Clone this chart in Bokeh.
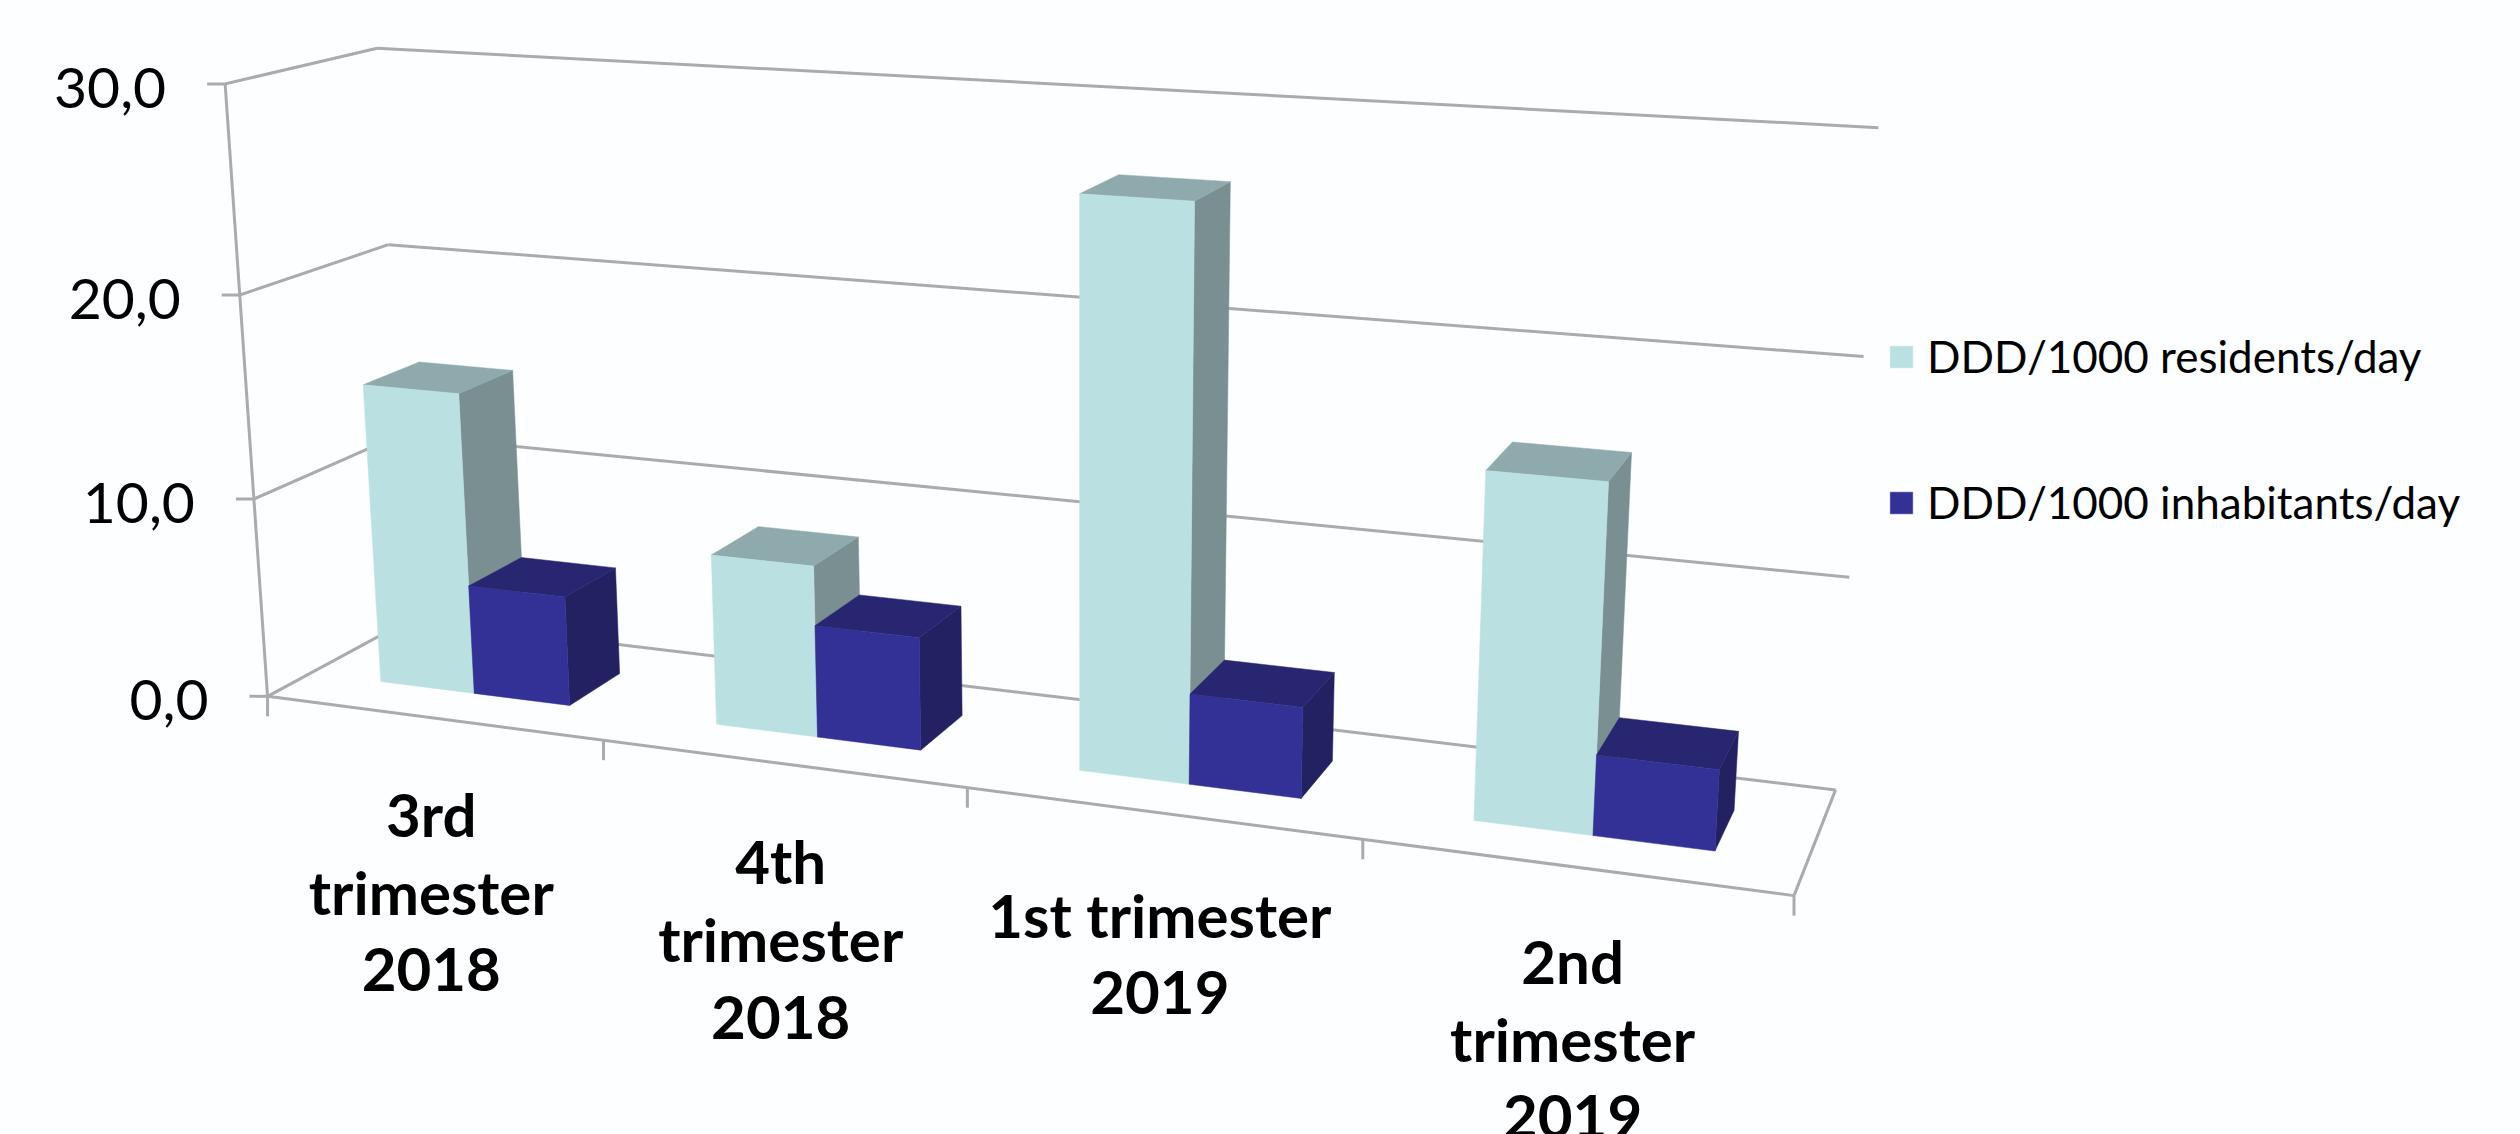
import numpy as np
from bokeh.plotting import figure
from bokeh.models import Range1d, Legend, LegendItem
from bokeh.core.properties import value
from bokeh.embed import file_html
from bokeh.resources import INLINE

# ---- data ----
category_lines = [["3rd", "trimester", "2018"], ["4th", "trimester", "2018"],
                  ["1st trimester", "2019"], ["2nd", "trimester", "2019"]]
residents = [15.1, 8.4, 26.7, 15.9]
inhabitants = [5.5, 5.5, 4.3, 3.7]
series_names = ["DDD/1000 residents/day", "DDD/1000 inhabitants/day"]
y_ticks = [0, 10, 20, 30]
y_tick_labels = ["0,0", "10,0", "20,0", "30,0"]

# ---- style / camera ----
W, H = 2520, 1134
CAMERA = np.array([[312.811742, 172.699883, -1.784522, 267.051492],
                   [15.484814, -30.353569, -20.551973, 695.833239],
                   [-0.038362, 0.074942, -0.001651, 1.0]])
BAR_START, BAR_WIDTH = 0.217, 0.286
DEPTH_FRONT, DEPTH_BACK = 0.293, 0.685
GRID = "#ABABAB"
BG = "#FCFEFF"
FACES = [("#BBE0E1", "#8EAAAC", "#798F91"), ("#333096", "#282671", "#232162")]
LABEL_DY = [96, 98, 102, 94]
LINE_STEP = 78
FONT = "Lato"


def pr(u, w, v):
    q = CAMERA @ np.array([u, w, v, 1.0])
    return q[0] / q[2], q[1] / q[2]


p = figure(width=W, height=H, x_range=Range1d(0, W), y_range=Range1d(H, 0),
           x_axis_location=None, y_axis_location=None, toolbar_location=None,
           output_backend="svg", min_border=0, outline_line_color=None,
           background_fill_color=BG, border_fill_color=BG)
p.grid.visible = False

# ---- frame ----
nc = len(residents)
xs, ys = [], []


def seg(a, b):
    xs.append([a[0], b[0]])
    ys.append([a[1], b[1]])


for v in y_ticks:
    seg(pr(0, 0, v), pr(0, 1, v))
    seg(pr(0, 1, v), pr(nc, 1, v))
    fx, fy = pr(0, 0, v)
    seg((fx - 18, fy), (fx, fy))
seg(pr(0, 0, y_ticks[0]), pr(0, 0, y_ticks[-1]))
seg(pr(nc, 1, 0), pr(nc, 0, 0))
seg(pr(0, 0, 0), pr(nc, 0, 0))
for i in range(nc + 1):
    fx, fy = pr(i, 0, 0)
    seg((fx, fy), (fx, fy + 20))
p.multi_line(xs, ys, line_color=GRID, line_width=3)

# ---- bars ----
legend_items = []


def faces(u0, u1, v):
    f, b = DEPTH_FRONT, DEPTH_BACK
    side = [pr(u1, f, 0), pr(u1, b, 0), pr(u1, b, v), pr(u1, f, v)]
    top = [pr(u0, f, v), pr(u1, f, v), pr(u1, b, v), pr(u0, b, v)]
    front = [pr(u0, f, 0), pr(u1, f, 0), pr(u1, f, v), pr(u0, f, v)]
    return side, top, front


for i in range(nc):
    for s, vals in enumerate([residents, inhabitants]):
        u0 = i + BAR_START + s * BAR_WIDTH
        u1 = u0 + BAR_WIDTH
        side, top, front = faces(u0, u1, vals[i])
        for quad, col in ((side, FACES[s][2]), (top, FACES[s][1])):
            p.patch([q[0] for q in quad], [q[1] for q in quad], fill_color=col, line_color=col, line_width=0.5)
        r = p.patch([q[0] for q in front], [q[1] for q in front], fill_color=FACES[s][0],
                    line_color=FACES[s][0], line_width=0.5)
        if i == 0:
            legend_items.append(LegendItem(label=series_names[s], renderers=[r]))

# ---- value tick labels ----
lx, ly, lt = [], [], []
for v, t in zip(y_ticks, y_tick_labels):
    fx, fy = pr(0, 0, v)
    lx.append(fx - 59)
    ly.append(fy + 4)
    lt.append(t)
p.text(lx, ly, text=lt, text_align="right", text_baseline="middle", text_color="#000000",
       text_font=value(FONT), text_font_size="57px")

# ---- category labels ----
cx, cy, ct = [], [], []
for i, lines in enumerate(category_lines):
    fx, fy = pr(i + 0.5, 0, 0)
    for k, line in enumerate(lines):
        cx.append(fx - 1)
        cy.append(fy + LABEL_DY[i] + k * LINE_STEP)
        ct.append(line)
p.text(cx, cy, text=ct, text_align="center", text_baseline="middle", text_color="#000000",
       text_font=value(FONT), text_font_style="bold", text_font_size="60px")

# ---- legend ----
legend = Legend(items=legend_items, location=(1887, H - 528), orientation="vertical",
                background_fill_alpha=0, border_line_alpha=0, glyph_width=28, glyph_height=27,
                label_text_font=FONT, label_text_font_size="44px", label_text_color="#000000",
                label_standoff=12, spacing=94, padding=0, margin=0, label_height=27)
p.add_layout(legend, "center")

open("out.html", "w").write(file_html(p, INLINE))
